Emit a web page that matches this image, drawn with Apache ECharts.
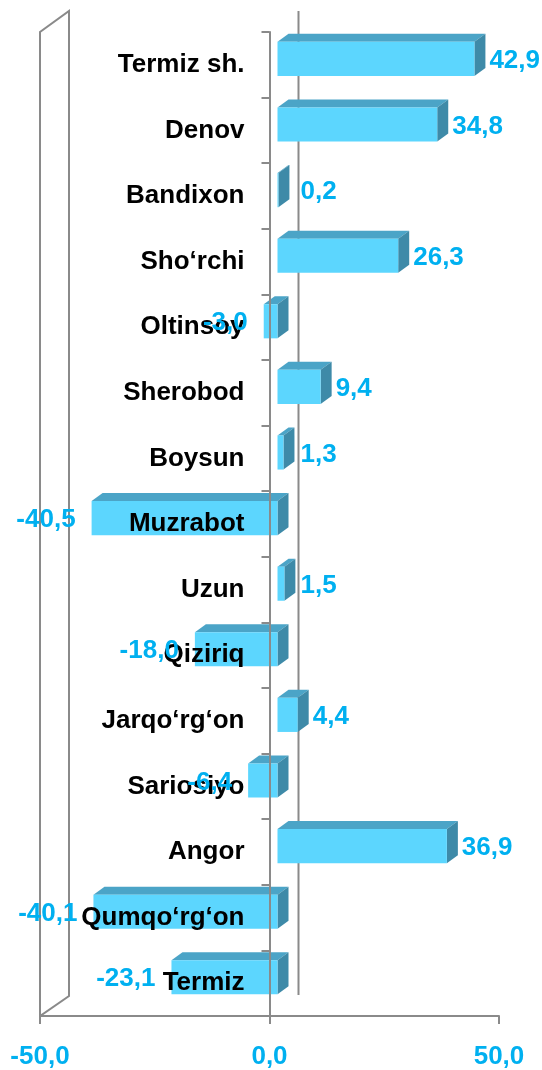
<!DOCTYPE html>
<html>
<head>
<meta charset="utf-8">
<script src="https://cdn.jsdelivr.net/npm/echarts@6/dist/echarts.min.js"></script>
<style>
  html, body { margin: 0; padding: 0; background: #fff; }
  #chart { width: 542px; height: 1070px; }
</style>
</head>
<body>
<div id="chart"></div>
<script>
const categories = ['Termiz sh.', 'Denov', 'Bandixon', 'Sho‘rchi', 'Oltinsoy', 'Sherobod', 'Boysun',
  'Muzrabot', 'Uzun', 'Qiziriq', 'Jarqo‘rg‘on', 'Sariosiyo', 'Angor', 'Qumqo‘rg‘on', 'Termiz'];
const values = [42.9, 34.8, 0.2, 26.3, -3.0, 9.4, 1.3, -40.5, 1.5, -18.0, 4.4, -6.4, 36.9, -40.1, -23.1];
const xTicks = [-50, 0, 50];

const FONT = 'bold 26px "Liberation Sans", Arial, sans-serif';
const LABEL_BLUE = '#00b0f0';
const AXIS_GREY = '#8a8a8a';
// 3d look: bars are pushed back a bit, depth offset of the box
const SHIFT = 8, DX = 11, DY = -8;

function fmt(v) {
  return v.toFixed(1).replace('.', ',');
}

function barBox(api) {
  let v = api.value(0), i = api.value(1);
  let p0 = api.coord([0, i]);
  let p1 = api.coord([v, i]);
  let bw = api.size([0, 1])[1];
  let L = Math.min(p0[0], p1[0]) + SHIFT;
  let R = Math.max(p0[0], p1[0]) + SHIFT;
  let T = p0[1] - bw * 0.35;
  let B = p0[1] + bw * 0.17;
  return { v, L, R, T, B, zeroX: p0[0] + SHIFT };
}

let chart = echarts.init(document.getElementById('chart'));
let data = values.map((v, i) => [v, i]);
const GRID_LEFT = 40;

let option = {
  animation: false,
  backgroundColor: '#fff',
  grid: {
    left: GRID_LEFT,
    right: 43,
    top: 32,
    bottom: 54,
    outerBoundsMode: 'none'
  },
  xAxis: {
    type: 'value',
    min: xTicks[0],
    max: xTicks[xTicks.length - 1],
    interval: 50,
    splitLine: { show: false },
    axisLine: { show: true, lineStyle: { color: AXIS_GREY, width: 2 } },
    axisTick: { show: true, length: 8, lineStyle: { color: AXIS_GREY, width: 2 } },
    axisLabel: {
      margin: 28,
      color: LABEL_BLUE,
      fontSize: 26,
      fontWeight: 'bold',
      fontFamily: '"Liberation Sans", Arial, sans-serif',
      showMinLabel: true,
      showMaxLabel: true,
      formatter: fmt
    }
  },
  yAxis: {
    type: 'category',
    inverse: true,
    data: categories,
    z: 10,
    axisLine: { show: true, onZero: false, lineStyle: { color: AXIS_GREY, width: 2 } },
    axisTick: { show: true, length: 8, lineStyle: { color: AXIS_GREY, width: 2 } },
    splitLine: { show: false },
    axisLabel: {
      margin: 25,
      color: '#000',
      fontSize: 26,
      fontWeight: 'bold',
      fontFamily: '"Liberation Sans", Arial, sans-serif'
    }
  },
  series: [{
    // bars
    type: 'custom',
    z: 2,
    encode: { x: 0, y: 1 },
    data: data,
    renderItem(params, api) {
      let b = barBox(api);
      return {
        type: 'group',
        children: [{
          type: 'polygon',
          shape: { points: [[b.L, b.T], [b.L + DX, b.T + DY], [b.R + DX, b.T + DY], [b.R, b.T]] },
          style: { fill: '#4ba4c7' }
        }, {
          type: 'polygon',
          shape: { points: [[b.R, b.T], [b.R + DX, b.T + DY], [b.R + DX, b.B + DY], [b.R, b.B]] },
          style: { fill: '#3e8aa8' }
        }, {
          type: 'rect',
          shape: { x: b.L, y: b.T, width: b.R - b.L, height: b.B - b.T },
          style: { fill: '#5cd6fe' }
        }]
      };
    }
  }, {
    // value labels
    type: 'custom',
    z: 20,
    encode: { x: 0, y: 1 },
    data: data,
    renderItem(params, api) {
      let b = barBox(api);
      let cy = (b.T + b.B) / 2 + 2;
      let x, align;
      if (b.v >= 0) {
        x = Math.max(b.R + DX + 4, b.zeroX + 23);
        align = 'left';
      } else {
        x = b.L - 16;
        align = 'right';
      }
      return {
        type: 'text',
        x: x,
        y: cy,
        style: {
          text: fmt(b.v),
          fill: LABEL_BLUE,
          font: FONT,
          align: align,
          verticalAlign: 'middle'
        }
      };
    }
  }]
};
chart.setOption(option);

// walls of the 3d frame, taken from the axes
let xMin = chart.convertToPixel({ xAxisIndex: 0 }, xTicks[0]);
let xZero = chart.convertToPixel({ xAxisIndex: 0 }, 0);
let c0 = chart.convertToPixel({ yAxisIndex: 0 }, 0);
let c1 = chart.convertToPixel({ yAxisIndex: 0 }, 1);
let band = c1 - c0;
let plotTop = c0 - band / 2;
let plotBottom = chart.convertToPixel({ yAxisIndex: 0 }, categories.length - 1) + band / 2;
let WX = 29, WY = -21;
let wallStyle = { stroke: AXIS_GREY, lineWidth: 2, fill: null };

chart.setOption({
  // category axis sits on the zero of the value axis, labels included
  yAxis: { offset: -(xZero - xMin) },
  graphic: [{
    type: 'polygon',
    z: 0,
    shape: { points: [[xMin, plotBottom], [xMin, plotTop], [xMin + WX, plotTop + WY], [xMin + WX, plotBottom + WY + 1]] },
    style: wallStyle
  }, {
    type: 'line',
    z: 0,
    shape: { x1: xZero + WX, y1: plotTop + WY, x2: xZero + WX, y2: plotBottom + WY },
    style: wallStyle
  }]
});
</script>
</body>
</html>
